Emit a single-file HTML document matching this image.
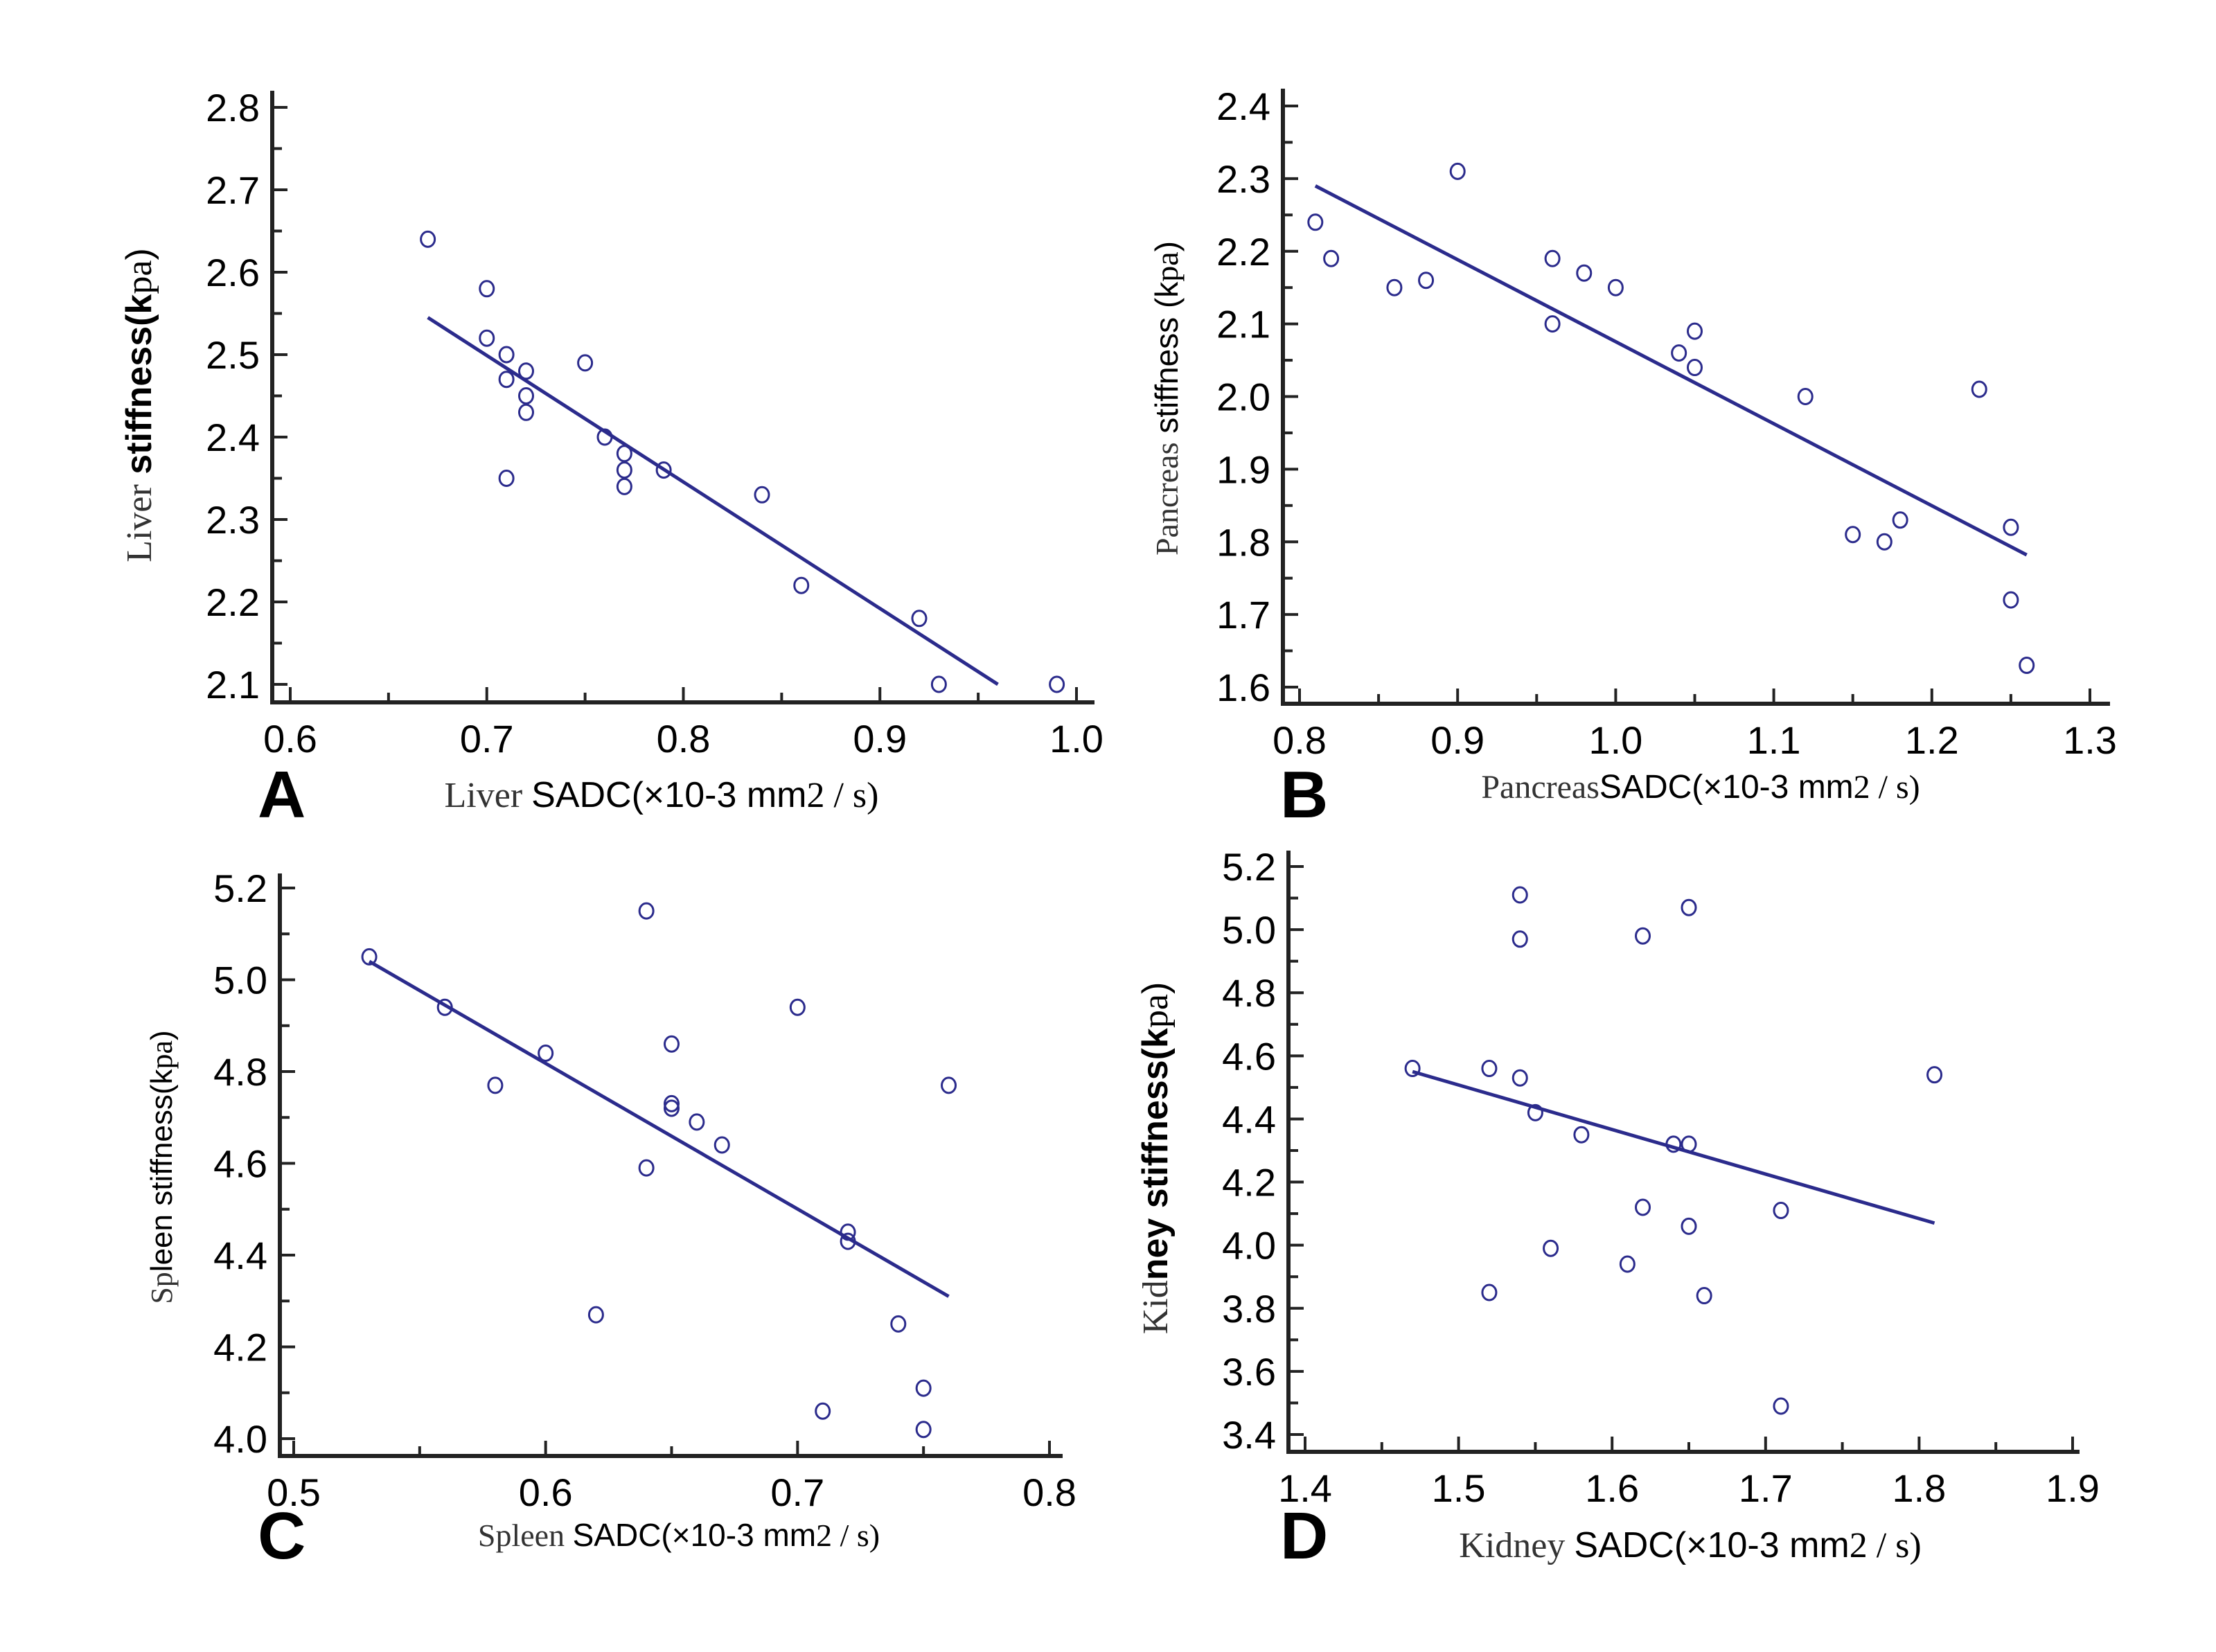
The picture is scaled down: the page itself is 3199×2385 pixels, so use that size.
<!DOCTYPE html>
<html><head><meta charset="utf-8"><style>
html,body{margin:0;padding:0;background:#fff;}
svg{display:block;}
text{font-family:"Liberation Sans",sans-serif;}
.tk{font-size:56px;fill:#000;}
.ser{font-family:"Liberation Serif",serif;}
</style></head><body>
<svg id="fig" width="3199" height="2385" viewBox="0 0 3199 2385" xmlns="http://www.w3.org/2000/svg">
<g id="pA"></g>
<g id="pB"></g>
<g id="pC"></g>
<g id="pD"></g>

<text x="372" y="1180" font-size="96" font-weight="bold">A</text>
<text x="1848" y="1180" font-size="96" font-weight="bold">B</text>
<text x="372" y="2250" font-size="96" font-weight="bold">C</text>
<text x="1848" y="2250" font-size="96" font-weight="bold">D</text>

<text x="955" y="1165" font-size="52" text-anchor="middle"><tspan class="ser" fill="#333">Liver    </tspan> SADC(×10-3  mm<tspan class="ser">2 / s)</tspan></text>
<text x="2455" y="1152" font-size="48" text-anchor="middle"><tspan class="ser" fill="#333">Pancreas</tspan>SADC(×10-3  mm<tspan class="ser">2 / s)</tspan></text>
<text x="980" y="2232" font-size="46" text-anchor="middle"><tspan class="ser" fill="#333">Spleen </tspan>SADC(×10-3  mm<tspan class="ser">2 / s)</tspan></text>
<text x="2440" y="2248" font-size="52" text-anchor="middle"><tspan class="ser" fill="#333">Kidney </tspan>SADC(×10-3  mm<tspan class="ser">2 / s)</tspan></text>

<text transform="translate(218,585) rotate(-90)" font-size="52" text-anchor="middle"><tspan class="ser" fill="#333">Liver</tspan><tspan font-weight="bold"> stiffness(k</tspan><tspan class="ser">pa</tspan>)</text>
<text transform="translate(1700,575) rotate(-90)" font-size="46" text-anchor="middle"><tspan class="ser" fill="#333">Pancreas</tspan> stiffness (k<tspan class="ser">pa</tspan>)</text>
<text transform="translate(248,1685) rotate(-90)" font-size="44" text-anchor="middle"><tspan class="ser" fill="#333">Sp</tspan>leen stiffness(k<tspan class="ser">pa</tspan>)</text>
<text transform="translate(1685,1672) rotate(-90)" font-size="52" text-anchor="middle"><tspan class="ser" fill="#333">Kid</tspan><tspan font-weight="bold">ney stiffness(k</tspan><tspan class="ser">pa</tspan>)</text>
</svg>
<script>
// Panel A (liver)
const xA = [0.67,0.70,0.70,0.71,0.71,0.72,0.72,0.72,0.75,0.71,0.76,0.77,0.77,0.77,0.79,0.84,0.86,0.92,0.93,0.99];
const yA = [2.64,2.58,2.52,2.50,2.47,2.48,2.45,2.43,2.49,2.35,2.40,2.38,2.36,2.34,2.36,2.33,2.22,2.18,2.10,2.10];
const fitXA = [0.67,0.96];
const fitYA = [2.545,2.10];
const xTicksA = ["0.6","0.7","0.8","0.9","1.0"];
const yTicksA = ["2.1","2.2","2.3","2.4","2.5","2.6","2.7","2.8"];
// Panel B (pancreas)
const xB = [0.81,0.82,0.86,0.88,0.90,0.96,0.96,0.98,1.00,1.04,1.05,1.05,1.12,1.15,1.17,1.18,1.23,1.25,1.25,1.26];
const yB = [2.24,2.19,2.15,2.16,2.31,2.19,2.10,2.17,2.15,2.06,2.09,2.04,2.00,1.81,1.80,1.83,2.01,1.82,1.72,1.63];
const fitXB = [0.81,1.26];
const fitYB = [2.29,1.782];
const xTicksB = ["0.8","0.9","1.0","1.1","1.2","1.3"];
const yTicksB = ["1.6","1.7","1.8","1.9","2.0","2.1","2.2","2.3","2.4"];
// Panel C (spleen)
const xC = [0.53,0.56,0.58,0.60,0.62,0.64,0.64,0.65,0.65,0.65,0.66,0.67,0.70,0.71,0.72,0.72,0.74,0.75,0.75,0.76];
const yC = [5.05,4.94,4.77,4.84,4.27,5.15,4.59,4.86,4.73,4.72,4.69,4.64,4.94,4.06,4.45,4.43,4.25,4.11,4.02,4.77];
const fitXC = [0.53,0.76];
const fitYC = [5.04,4.31];
const xTicksC = ["0.5","0.6","0.7","0.8"];
const yTicksC = ["4.0","4.2","4.4","4.6","4.8","5.0","5.2"];
// Panel D (kidney)
const xD = [1.47,1.52,1.52,1.54,1.54,1.54,1.55,1.56,1.58,1.61,1.62,1.62,1.64,1.65,1.65,1.65,1.66,1.71,1.71,1.81];
const yD = [4.56,4.56,3.85,5.11,4.97,4.53,4.42,3.99,4.35,3.94,4.98,4.12,4.32,4.32,5.07,4.06,3.84,4.11,3.49,4.54];
const fitXD = [1.47,1.81];
const fitYD = [4.55,4.07];
const xTicksD = ["1.4","1.5","1.6","1.7","1.8","1.9"];
const yTicksD = ["3.4","3.6","3.8","4.0","4.2","4.4","4.6","4.8","5.0","5.2"];

const NS = "http://www.w3.org/2000/svg";
const COL = "#2b2b8c";
function mk(tag, attrs, parent){
  const e = document.createElementNS(NS, tag);
  for (const k in attrs) e.setAttribute(k, attrs[k]);
  parent.appendChild(e); return e;
}
function panel(g, L, xs, ys, fx, fy, xt, yt, key){
  const x0 = parseFloat(xt[0]), x1 = parseFloat(xt[xt.length-1]);
  const y0 = parseFloat(yt[0]), y1 = parseFloat(yt[yt.length-1]);
  const sx = v => L.px0 + (v - x0) / (x1 - x0) * (L.px1 - L.px0);
  const sy = v => L.py0 + (v - y0) / (y1 - y0) * (L.py1 - L.py0);
  const ax = mk('path', {d:`M${L.ax},${L.top} V${L.ay} H${L.right}`, fill:'none', stroke:'#222', 'stroke-width':6}, g);
  
  
  const xstep = (x1 - x0) / (xt.length - 1);
  for (let i = 0; i < xt.length; i++) {
    const v = x0 + i * xstep, X = sx(v);
    const t = mk('line', {x1:X, x2:X, y1:L.ay, y2:L.ay-22, stroke:'#222', 'stroke-width':4}, g);
    
    
    const lb = mk('text', {x:X, y:L.ay+72, class:'tk', 'text-anchor':'middle'}, g);
    lb.textContent = xt[i];
    
    
    if (i < xt.length - 1) {
      const m = sx(v + xstep/2);
      const mt = mk('line', {x1:m, x2:m, y1:L.ay, y2:L.ay-14, stroke:'#222', 'stroke-width':4}, g);
      
      
    }
  }
  const ystep = (y1 - y0) / (yt.length - 1);
  for (let i = 0; i < yt.length; i++) {
    const v = y0 + i * ystep, Y = sy(v);
    const t = mk('line', {x1:L.ax, x2:L.ax+22, y1:Y, y2:Y, stroke:'#222', 'stroke-width':4}, g);
    
    
    const lb = mk('text', {x:L.ax-18, y:Y+20, class:'tk', 'text-anchor':'end'}, g);
    lb.textContent = yt[i];
    
    
    if (i < yt.length - 1) {
      const m = sy(v + ystep/2);
      const mt = mk('line', {x1:L.ax, x2:L.ax+14, y1:m, y2:m, stroke:'#222', 'stroke-width':4}, g);
      
      
    }
  }
  const fl = mk('line', {x1:sx(fx[0]), y1:sy(fy[0]), x2:sx(fx[1]), y2:sy(fy[1]), stroke:COL, 'stroke-width':5}, g);
  
  
  for (let i = 0; i < xs.length; i++) {
    const c = mk('ellipse', {cx:sx(xs[i]), cy:sy(ys[i]), rx:10, ry:11, fill:'none', stroke:COL, 'stroke-width':3}, g);
    
    
  }
}
panel(document.getElementById('pA'), {ax:393, ay:1014, top:131, right:1580, px0:419, px1:1554, py0:988, py1:155}, xA, yA, fitXA, fitYA, xTicksA, yTicksA, 'a');
panel(document.getElementById('pB'), {ax:1852, ay:1016, top:128, right:3046, px0:1876, px1:3017, py0:992, py1:153}, xB, yB, fitXB, fitYB, xTicksB, yTicksB, 'b');
panel(document.getElementById('pC'), {ax:404, ay:2102, top:1261, right:1534, px0:424, px1:1515, py0:2077, py1:1282}, xC, yC, fitXC, fitYC, xTicksC, yTicksC, 'c');
panel(document.getElementById('pD'), {ax:1860, ay:2096, top:1228, right:3002, px0:1884, px1:2992, py0:2071, py1:1251}, xD, yD, fitXD, fitYD, xTicksD, yTicksD, 'd');
</script>
</body></html>
